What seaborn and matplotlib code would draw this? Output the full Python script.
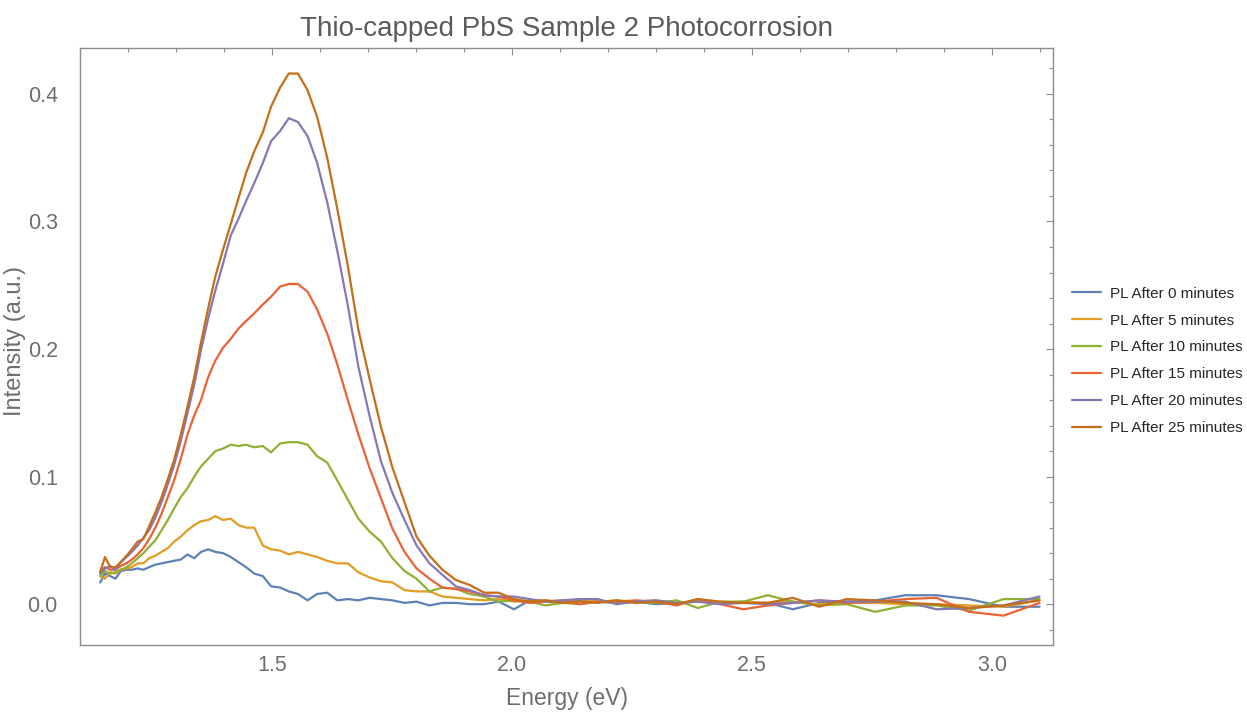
import numpy as np
import pandas as pd
import matplotlib
matplotlib.use('Agg')
import matplotlib.pyplot as plt
from matplotlib.ticker import MultipleLocator
import seaborn as sns

# Energy grid (eV) shared by all spectra
energy = [1.142, 1.152, 1.163, 1.174, 1.185, 1.197, 1.208, 1.220, 1.232, 1.244,
          1.257, 1.270, 1.283, 1.296, 1.310, 1.324, 1.338, 1.352, 1.367, 1.382,
          1.398, 1.414, 1.430, 1.446, 1.463, 1.481, 1.498, 1.517, 1.535, 1.554,
          1.574, 1.594, 1.615, 1.636, 1.658, 1.680, 1.703, 1.727, 1.751, 1.776,
          1.801, 1.828, 1.855, 1.883, 1.912, 1.942, 1.972, 2.004, 2.037, 2.070,
          2.105, 2.141, 2.179, 2.218, 2.258, 2.299, 2.343, 2.387, 2.434, 2.482,
          2.533, 2.585, 2.640, 2.697, 2.757, 2.819, 2.884, 2.952, 3.024, 3.099]

pl_0 = [0.017, 0.024, 0.022, 0.020, 0.026, 0.027, 0.027, 0.028, 0.027, 0.029,
        0.031, 0.032, 0.033, 0.034, 0.035, 0.039, 0.036, 0.041, 0.043, 0.041,
        0.040, 0.037, 0.033, 0.029, 0.024, 0.022, 0.014, 0.013, 0.010, 0.008,
        0.003, 0.008, 0.009, 0.003, 0.004, 0.003, 0.005, 0.004, 0.003, 0.001,
        0.002, -0.001, 0.001, 0.001, 0.000, 0.000, 0.002, -0.004, 0.003, 0.002,
        0.001, 0.003, 0.002, 0.001, 0.002, 0.000, 0.001, 0.002, 0.001, 0.001,
        0.001, -0.004, 0.001, 0.002, 0.003, 0.007, 0.007, 0.004, -0.002, -0.002]

pl_5 = [0.022, 0.020, 0.025, 0.024, 0.027, 0.028, 0.029, 0.032, 0.032, 0.036,
        0.038, 0.041, 0.044, 0.049, 0.053, 0.058, 0.062, 0.065, 0.066, 0.069,
        0.066, 0.067, 0.062, 0.060, 0.060, 0.046, 0.043, 0.042, 0.039, 0.041,
        0.039, 0.037, 0.034, 0.032, 0.032, 0.025, 0.021, 0.018, 0.017, 0.011,
        0.010, 0.010, 0.006, 0.005, 0.004, 0.003, 0.004, 0.002, 0.003, 0.003,
        0.002, 0.004, 0.002, 0.003, 0.002, 0.003, 0.001, 0.002, 0.001, 0.002,
        0.001, 0.002, 0.000, 0.001, 0.001, 0.000, 0.000, -0.001, -0.002, 0.003]

pl_10 = [0.022, 0.026, 0.024, 0.025, 0.027, 0.029, 0.032, 0.036, 0.040, 0.045,
         0.050, 0.058, 0.066, 0.075, 0.084, 0.091, 0.100, 0.108, 0.114, 0.120,
         0.122, 0.125, 0.124, 0.125, 0.123, 0.124, 0.119, 0.126, 0.127, 0.127,
         0.125, 0.116, 0.111, 0.097, 0.082, 0.067, 0.057, 0.049, 0.036, 0.026,
         0.020, 0.010, 0.013, 0.012, 0.008, 0.006, 0.002, 0.003, 0.002, -0.001,
         0.001, 0.000, 0.002, 0.001, 0.002, 0.001, 0.003, -0.003, 0.002, 0.002,
         0.007, 0.002, -0.001, 0.000, -0.006, -0.001, -0.001, -0.005, 0.004, 0.004]

pl_15 = [0.026, 0.029, 0.027, 0.027, 0.030, 0.032, 0.035, 0.039, 0.044, 0.051,
         0.060, 0.071, 0.084, 0.097, 0.114, 0.133, 0.148, 0.160, 0.178, 0.191,
         0.201, 0.208, 0.216, 0.222, 0.228, 0.235, 0.241, 0.249, 0.251, 0.251,
         0.245, 0.231, 0.212, 0.188, 0.160, 0.133, 0.107, 0.083, 0.059, 0.041,
         0.028, 0.020, 0.013, 0.012, 0.010, 0.007, 0.006, 0.003, 0.001, 0.002,
         0.003, 0.000, 0.002, 0.002, 0.003, 0.002, -0.001, 0.004, 0.000, -0.004,
         -0.001, 0.001, 0.003, 0.001, 0.002, 0.004, 0.005, -0.006, -0.009, 0.001]

pl_20 = [0.024, 0.028, 0.030, 0.027, 0.033, 0.037, 0.041, 0.046, 0.052, 0.058,
         0.068, 0.080, 0.094, 0.109, 0.128, 0.150, 0.172, 0.199, 0.224, 0.246,
         0.267, 0.289, 0.302, 0.316, 0.330, 0.346, 0.363, 0.371, 0.381, 0.378,
         0.367, 0.346, 0.315, 0.277, 0.234, 0.186, 0.148, 0.112, 0.087, 0.066,
         0.046, 0.032, 0.023, 0.014, 0.011, 0.007, 0.006, 0.006, 0.004, 0.002,
         0.003, 0.004, 0.004, 0.000, 0.002, 0.003, 0.001, 0.002, 0.000, 0.001,
         0.000, 0.001, 0.003, 0.002, 0.002, 0.002, -0.004, -0.003, -0.001, 0.006]

pl_25 = [0.025, 0.037, 0.029, 0.029, 0.033, 0.038, 0.043, 0.049, 0.051, 0.061,
         0.072, 0.084, 0.098, 0.113, 0.133, 0.155, 0.178, 0.205, 0.232, 0.257,
         0.278, 0.298, 0.318, 0.338, 0.355, 0.370, 0.390, 0.405, 0.416, 0.416,
         0.403, 0.382, 0.350, 0.310, 0.265, 0.215, 0.177, 0.139, 0.107, 0.080,
         0.053, 0.038, 0.027, 0.019, 0.015, 0.009, 0.009, 0.004, 0.002, 0.003,
         0.001, 0.002, 0.001, 0.003, 0.001, 0.002, 0.000, 0.004, 0.002, 0.001,
         0.001, 0.005, -0.002, 0.004, 0.003, 0.001, 0.000, -0.003, -0.001, 0.003]

labels = ['PL After 0 minutes', 'PL After 5 minutes', 'PL After 10 minutes',
          'PL After 15 minutes', 'PL After 20 minutes', 'PL After 25 minutes']
series = [pl_0, pl_5, pl_10, pl_15, pl_20, pl_25]
colors = ['#5E81B5', '#E19C24', '#8FB032', '#EB6235', '#8778B3', '#C56E1A']

df = pd.concat([pd.DataFrame({'Energy': energy, 'Intensity': s, 'Series': lab})
                for s, lab in zip(series, labels)], ignore_index=True)

sns.set_style('white')
plt.rcParams['font.family'] = ['Liberation Sans', 'DejaVu Sans']

fig = plt.figure(figsize=(12.47, 7.13), dpi=100)
ax = fig.add_axes([80 / 1247, 1 - 645 / 713, 973 / 1247, 597 / 713])

sns.lineplot(data=df, x='Energy', y='Intensity', hue='Series', hue_order=labels,
             palette=colors, linewidth=1.6, ax=ax, sort=False, estimator=None)

ax.set_xlim(1.1, 3.127)
ax.set_ylim(-0.032, 0.436)
ax.xaxis.set_major_locator(MultipleLocator(0.5))
ax.xaxis.set_minor_locator(MultipleLocator(0.1))
ax.yaxis.set_major_locator(MultipleLocator(0.1))
ax.yaxis.set_minor_locator(MultipleLocator(0.02))
ax.xaxis.set_major_formatter(matplotlib.ticker.FormatStrFormatter('%.1f'))
ax.yaxis.set_major_formatter(matplotlib.ticker.FormatStrFormatter('%.1f'))

frame_col = '#8c8c8c'
for sp in ax.spines.values():
    sp.set_color(frame_col)
    sp.set_linewidth(1.0)
ax.tick_params(which='both', direction='in', top=True, right=True,
               color=frame_col, width=0.8, labelcolor='#6e6e6e', labelsize=15.5)
ax.tick_params(which='major', length=5)
ax.tick_params(which='minor', length=3)
ax.tick_params(axis='x', pad=7)
ax.tick_params(axis='y', pad=16)

ax.set_xlabel('Energy (eV)', fontsize=16.5, color='#6e6e6e', labelpad=8)
ax.set_ylabel('Intensity (a.u.)', fontsize=17, color='#6e6e6e')
ax.yaxis.set_label_coords(-0.055, 0.51)
ax.set_title('Thio-capped PbS Sample 2 Photocorrosion', fontsize=20,
             color='#5a5a5a', pad=9)

handles, labs = ax.get_legend_handles_labels()
ax.get_legend().remove()
fig.legend(handles, labs, loc='center left', bbox_to_anchor=(1066 / 1247, 0.494),
           frameon=False, fontsize=11, handlelength=1.9, handletextpad=0.6,
           labelspacing=0.84, borderaxespad=0)

fig.savefig('out.png', dpi=100)
